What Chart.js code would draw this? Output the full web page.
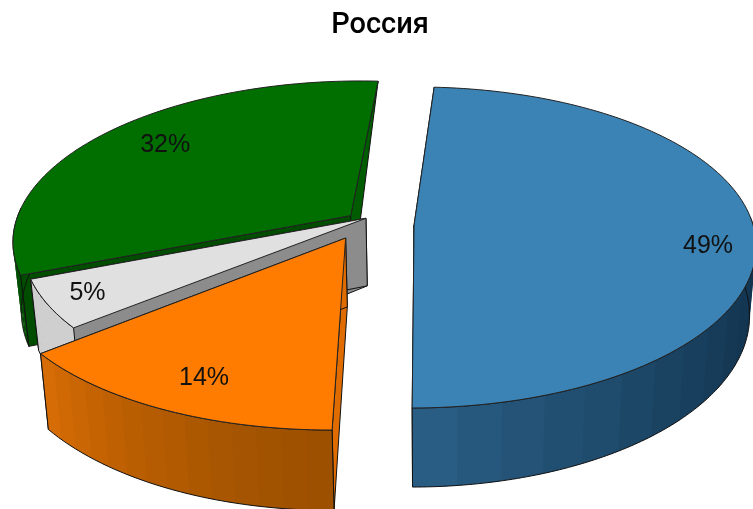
<!DOCTYPE html>
<html>
<head>
<meta charset="utf-8">
<script src="https://cdn.jsdelivr.net/npm/chart.js@4"></script>
<style>
html, body { margin: 0; background: #fff; overflow: hidden; }
canvas { display: block; }
</style>
</head>
<body>
<canvas id="pie-chart" width="753" height="509"></canvas>
<script>
"use strict";

var titleText = "Россия";
var categories = ["Сегмент 1", "Сегмент 2", "Сегмент 3", "Сегмент 4"];
var shares = [49, 14, 5, 32];
var shareLabels = ["49%", "14%", "5%", "32%"];

var topColors = ["#3b83b5", "#ff7c00", "#e0e0e0", "#006f00"];

// camera for the tilted disc, everything in radius units
var view = { vx: 430, rx: 339, depth: 0.14, horizon: -899, ground: 1124, height: 68, shrink: 0.02 };

// per slice look: where the slice is pulled to, size, wall shades, label place
var looks = [
    { shift: [-0.047, 0], r: 1, wall: ["#0f2f49", "#2a5f86"], startWall: "#1c4a6e", endWall: "#1c4a6e", label: 0.85, nudge: [5, 17] },
    { shift: [-0.246, 0.082], r: 1.02, wall: ["#9c5000", "#d96d05"], startWall: "#e06c00", endWall: "#e06c00", label: 0.9, nudge: [21, -12] },
    { shift: [-0.19, -0.043], r: 1.005, wall: ["#cfcfcf", "#cfcfcf"], startWall: "#8c8c8c", endWall: "#8c8c8c", label: 0.9, nudge: [6, -2] },
    { shift: [-0.236, -0.06], r: 0.99, wall: ["#004d00", "#004d00"], startWall: "#004d00", endWall: "#005c00", pinchEnd: true, label: 0.73, nudge: [-4, -9] }
];

function project(x, y, drop) {
    var w = 1 / (1 - view.depth * y);
    var k = drop ? 1 - view.shrink : 1;
    return [
        view.vx + view.rx * x * w * k,
        view.horizon + view.ground * w + (drop ? view.height * w : 0)
    ];
}

function rimPoint(look, angle, r, drop) {
    return project(look.shift[0] + r * look.r * Math.cos(angle), look.shift[1] + r * look.r * Math.sin(angle), drop);
}

function tracePath(ctx, pts) {
    ctx.beginPath();
    pts.forEach(function (p, i) {
        if (i === 0) ctx.moveTo(p[0], p[1]);
        else ctx.lineTo(p[0], p[1]);
    });
    ctx.closePath();
}

function fillPath(ctx, pts, fill, stroke) {
    tracePath(ctx, pts);
    ctx.fillStyle = fill;
    ctx.fill();
    if (stroke) {
        ctx.strokeStyle = stroke;
        ctx.lineWidth = 1;
        ctx.stroke();
    }
}

function mix(a, b, t) {
    var out = "rgb(";
    for (var i = 0; i < 3; i++) {
        var ca = parseInt(a.substr(1 + i * 2, 2), 16);
        var cb = parseInt(b.substr(1 + i * 2, 2), 16);
        out += Math.round(ca + (cb - ca) * t) + (i < 2 ? "," : ")");
    }
    return out;
}

function sideWall(ctx, look, angle, fill, pinch) {
    fillPath(ctx, [
        rimPoint(look, angle, 0, false),
        rimPoint(look, angle, 1, false),
        rimPoint(look, angle, 1, !pinch),
        rimPoint(look, angle, 0, true)
    ], fill, "#111");
}

function drawSlice(ctx, arc, look, color) {
    var a0 = arc.startAngle, a1 = arc.endAngle;
    var steps = Math.max(4, Math.round((a1 - a0) * 40));
    var i, a;

    sideWall(ctx, look, a0, look.startWall, false);
    sideWall(ctx, look, a1, look.endWall, look.pinchEnd);

    // outer wall, only the part facing the camera, flat bands that overlap
    var from = Math.max(a0, -0.05);
    var to = Math.min(a1, Math.PI + 0.05);
    if (to > from) {
        var bands = 14;
        var outline = [];
        for (i = 0; i < bands; i++) {
            var b0 = from + (to - from) * i / bands;
            var b1 = Math.min(to, from + (to - from) * (i + 1.3) / bands);
            var strip = [];
            for (a = 0; a <= 4; a++) strip.push(rimPoint(look, b0 + (b1 - b0) * a / 4, 1, false));
            for (a = 4; a >= 0; a--) strip.push(rimPoint(look, b0 + (b1 - b0) * a / 4, 1, true));
            fillPath(ctx, strip, mix(look.wall[0], look.wall[1], Math.pow((i + 0.5) / bands, 1.4)));
        }
        for (i = 0; i <= steps; i++) outline.push(rimPoint(look, from + (to - from) * i / steps, 1, true));
        for (i = steps; i >= 0; i--) outline.push(rimPoint(look, from + (to - from) * i / steps, 1, false));
        tracePath(ctx, outline);
        ctx.strokeStyle = "#111";
        ctx.lineWidth = 1;
        ctx.stroke();
    }

    var face = [rimPoint(look, a0, 0, false)];
    for (i = 0; i <= steps; i++) face.push(rimPoint(look, a0 + (a1 - a0) * i / steps, 1, false));
    fillPath(ctx, face, color, "#222");
}

var tiltedPie = {
    id: "tiltedPie",
    beforeDatasetsDraw: function (chart) {
        var ctx = chart.ctx;
        var arcs = chart.getDatasetMeta(0).data;
        ctx.save();
        ctx.lineJoin = "round";
        // back to front
        [3, 2, 1, 0].forEach(function (i) {
            drawSlice(ctx, arcs[i], looks[i], topColors[i]);
        });
        ctx.fillStyle = "#111";
        ctx.font = "25px 'Liberation Sans'";
        ctx.textAlign = "center";
        ctx.textBaseline = "middle";
        shareLabels.forEach(function (text, i) {
            var mid = (arcs[i].startAngle + arcs[i].endAngle) / 2;
            var p = rimPoint(looks[i], mid, looks[i].label, false);
            ctx.fillText(text, p[0] + looks[i].nudge[0], p[1] + looks[i].nudge[1]);
        });
        ctx.restore();
        return false;
    }
};

new Chart(document.getElementById("pie-chart"), {
    type: "pie",
    data: {
        labels: categories,
        datasets: [{ data: shares, backgroundColor: topColors }]
    },
    options: {
        responsive: false,
        animation: false,
        rotation: 3.5,
        layout: { padding: { left: 7 } },
        plugins: {
            legend: { display: false },
            tooltip: { enabled: false },
            title: {
                display: true,
                text: titleText,
                color: "#000",
                font: { family: "Roboto", size: 29, weight: "500" },
                padding: { top: 8, bottom: 10 }
            }
        }
    },
    plugins: [tiltedPie]
});
</script>
</body>
</html>
